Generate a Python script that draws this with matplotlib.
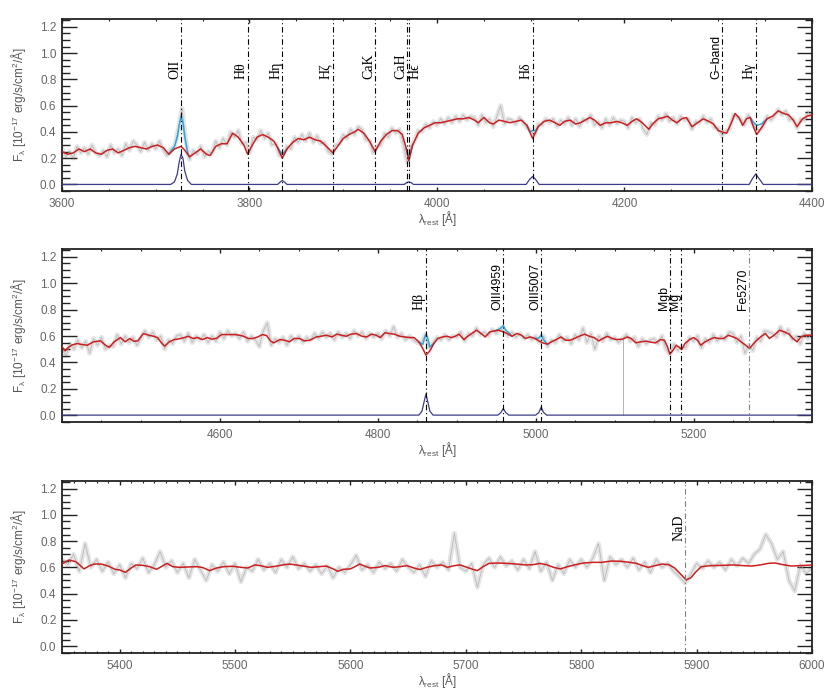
import numpy as np
import matplotlib
matplotlib.use('Agg')
import matplotlib.pyplot as plt
from matplotlib.ticker import MultipleLocator, FixedLocator, FormatStrFormatter

plt.rcParams['font.family'] = ['Liberation Sans', 'DejaVu Sans']
plt.rcParams['mathtext.default'] = 'regular'

# ---------------- panel 1 : 3600 - 4400 A ----------------
gray1_start, gray1_step = 3600, 4
gray1 = [0.27, 0.21, 0.25, 0.20, 0.29, 0.24, 0.28, 0.23, 0.30, 0.24,
         0.22, 0.26, 0.21, 0.30, 0.24, 0.27, 0.22, 0.31, 0.26, 0.33,
         0.30, 0.25, 0.32, 0.26, 0.31, 0.27, 0.33, 0.26, 0.22, 0.27,
         0.29, 0.42, 0.58, 0.34, 0.19, 0.26, 0.23, 0.29, 0.21, 0.25,
         0.24, 0.33, 0.28, 0.35, 0.30, 0.40, 0.36, 0.41, 0.31, 0.32,
         0.24, 0.36, 0.34, 0.41, 0.35, 0.39, 0.30, 0.31, 0.22, 0.23,
         0.29, 0.27, 0.36, 0.32, 0.38, 0.33, 0.39, 0.32, 0.37, 0.31,
         0.32, 0.25, 0.23, 0.30, 0.31, 0.38, 0.35, 0.42, 0.38, 0.44,
         0.42, 0.34, 0.33, 0.24, 0.29, 0.30, 0.39, 0.36, 0.43, 0.39,
         0.42, 0.31, 0.17, 0.29, 0.33, 0.41, 0.40, 0.46, 0.43, 0.48,
         0.45, 0.50, 0.46, 0.51, 0.47, 0.52, 0.48, 0.53, 0.49, 0.52,
         0.51, 0.45, 0.53, 0.47, 0.50, 0.44, 0.52, 0.60, 0.46, 0.50,
         0.49, 0.46, 0.51, 0.47, 0.43, 0.41, 0.38, 0.46, 0.45, 0.50,
         0.47, 0.50, 0.44, 0.49, 0.46, 0.51, 0.45, 0.50, 0.44, 0.50,
         0.48, 0.53, 0.45, 0.48, 0.43, 0.50, 0.45, 0.51, 0.46, 0.49,
         0.48, 0.43, 0.51, 0.47, 0.50, 0.42, 0.38, 0.47, 0.45, 0.52,
         0.49, 0.54, 0.48, 0.51, 0.46, 0.52, 0.49, 0.50, 0.42, 0.48,
         0.47, 0.52, 0.47, 0.50, 0.43, 0.43, 0.37, 0.41, 0.42, 0.53,
         0.51, 0.50, 0.45, 0.53, 0.47, 0.43, 0.41, 0.44, 0.52, 0.49,
         0.52, 0.57, 0.53, 0.56, 0.49, 0.50, 0.43, 0.50, 0.49, 0.55,
         0.51]

red1 = [(3600, 0.25), (3606, 0.23), (3612, 0.24), (3618, 0.27), (3624, 0.25),
        (3630, 0.27), (3636, 0.24), (3642, 0.23), (3648, 0.26), (3654, 0.27),
        (3660, 0.24), (3666, 0.26), (3672, 0.28), (3678, 0.29), (3684, 0.28),
        (3690, 0.27), (3696, 0.29), (3702, 0.30), (3708, 0.28), (3714, 0.23),
        (3720, 0.27), (3727, 0.29), (3731, 0.26), (3736, 0.21), (3742, 0.24),
        (3748, 0.27), (3754, 0.23), (3758, 0.22), (3764, 0.29), (3770, 0.31),
        (3776, 0.31), (3782, 0.39), (3788, 0.36), (3794, 0.30), (3798, 0.23),
        (3803, 0.30), (3808, 0.36), (3814, 0.38), (3820, 0.36), (3826, 0.33),
        (3830, 0.28), (3835, 0.20), (3840, 0.27), (3846, 0.32), (3852, 0.35),
        (3858, 0.34), (3864, 0.36), (3870, 0.34), (3876, 0.33), (3882, 0.29),
        (3889, 0.24), (3895, 0.30), (3900, 0.35), (3906, 0.38), (3912, 0.40),
        (3916, 0.42), (3922, 0.39), (3928, 0.33), (3934, 0.25), (3940, 0.33),
        (3946, 0.38), (3952, 0.41), (3958, 0.41), (3963, 0.38), (3967, 0.28),
        (3970, 0.18), (3974, 0.30), (3980, 0.39), (3986, 0.43), (3992, 0.45),
        (3998, 0.47), (4004, 0.47), (4010, 0.48), (4016, 0.49), (4022, 0.50),
        (4028, 0.50), (4034, 0.51), (4040, 0.49), (4044, 0.47), (4050, 0.51),
        (4056, 0.47), (4060, 0.46), (4066, 0.49), (4072, 0.48), (4078, 0.47),
        (4084, 0.48), (4090, 0.49), (4096, 0.45), (4102, 0.35), (4108, 0.44),
        (4114, 0.48), (4120, 0.49), (4126, 0.47), (4131, 0.45), (4136, 0.48),
        (4142, 0.49), (4148, 0.46), (4153, 0.47), (4158, 0.49), (4163, 0.51),
        (4168, 0.49), (4174, 0.45), (4180, 0.47), (4186, 0.47), (4192, 0.48),
        (4197, 0.47), (4203, 0.45), (4208, 0.48), (4213, 0.50), (4219, 0.47),
        (4226, 0.42), (4230, 0.46), (4236, 0.50), (4242, 0.51), (4246, 0.52),
        (4251, 0.49), (4256, 0.47), (4261, 0.50), (4266, 0.51), (4272, 0.44),
        (4278, 0.47), (4284, 0.50), (4290, 0.48), (4295, 0.46), (4300, 0.41),
        (4304, 0.40), (4309, 0.39), (4314, 0.47), (4318, 0.54), (4322, 0.51),
        (4326, 0.45), (4330, 0.50), (4334, 0.51), (4338, 0.43), (4341, 0.38),
        (4346, 0.43), (4352, 0.50), (4358, 0.52), (4364, 0.56), (4370, 0.54),
        (4375, 0.53), (4380, 0.49), (4384, 0.44), (4390, 0.50), (4395, 0.52),
        (4400, 0.53)]

emis1 = [(3600, 0), (3716, 0), (3720, 0.02), (3723, 0.08), (3725, 0.17), (3727, 0.23),
         (3729, 0.20), (3731, 0.10), (3734, 0.03), (3738, 0), (3830, 0), (3833, 0.02),
         (3835, 0.03), (3837, 0.02), (3840, 0), (3965, 0), (3968, 0.015), (3970, 0.02),
         (3972, 0.015), (3975, 0), (4095, 0), (4099, 0.04), (4102, 0.06), (4105, 0.04),
         (4109, 0), (4333, 0), (4337, 0.05), (4340, 0.08), (4343, 0.05), (4348, 0),
         (4400, 0)]

cyan1 = [[(3714, 0.23), (3720, 0.29), (3723, 0.36), (3725, 0.45), (3727, 0.52),
          (3729, 0.47), (3731, 0.36), (3734, 0.24), (3736, 0.21)],
         [(3830, 0.28), (3835, 0.23), (3840, 0.27)],
         [(3967, 0.28), (3970, 0.20), (3974, 0.30)],
         [(4096, 0.45), (4099, 0.40), (4102, 0.41), (4105, 0.41), (4108, 0.44)],
         [(4334, 0.51), (4338, 0.47), (4341, 0.45), (4346, 0.46), (4352, 0.50)]]

lines1 = [(3727, 'OII', 'l'), (3798, 'Hθ', 'l'), (3835, 'Hη', 'l'), (3889, 'Hζ', 'l'),
          (3934, 'CaK', 'l'), (3968.5, 'CaH', 'l'), (3970, 'Hϵ', 'r'), (4102, 'Hδ', 'l'),
          (4304, 'G−band', 'l'), (4340, 'Hγ', 'l')]

# ---------------- panel 2 : 4400 - 5350 A ----------------
gray2_start, gray2_step = 4400, 5
gray2 = [0.50, 0.45, 0.54, 0.50, 0.57, 0.51, 0.56, 0.47, 0.58, 0.53,
         0.59, 0.50, 0.53, 0.52, 0.61, 0.54, 0.60, 0.55, 0.59, 0.53,
         0.58, 0.64, 0.59, 0.63, 0.57, 0.60, 0.50, 0.57, 0.54, 0.60,
         0.61, 0.56, 0.62, 0.55, 0.60, 0.57, 0.61, 0.55, 0.60, 0.56,
         0.63, 0.58, 0.64, 0.60, 0.62, 0.58, 0.63, 0.56, 0.60, 0.57,
         0.52, 0.64, 0.70, 0.53, 0.58, 0.55, 0.59, 0.53, 0.60, 0.56,
         0.60, 0.55, 0.59, 0.57, 0.62, 0.58, 0.63, 0.59, 0.62, 0.57,
         0.63, 0.59, 0.62, 0.58, 0.64, 0.60, 0.63, 0.58, 0.62, 0.59,
         0.62, 0.58, 0.64, 0.60, 0.67, 0.59, 0.62, 0.57, 0.60, 0.57,
         0.55, 0.54, 0.61, 0.51, 0.55, 0.59, 0.57, 0.61, 0.57, 0.60,
         0.59, 0.63, 0.56, 0.62, 0.60, 0.66, 0.61, 0.63, 0.60, 0.65,
         0.62, 0.66, 0.64, 0.60, 0.63, 0.59, 0.62, 0.58, 0.61, 0.57,
         0.60, 0.55, 0.60, 0.52, 0.57, 0.55, 0.61, 0.56, 0.59, 0.54,
         0.61, 0.57, 0.66, 0.55, 0.62, 0.50, 0.60, 0.56, 0.62, 0.57,
         0.59, 0.55, 0.58, 0.61, 0.56, 0.59, 0.52, 0.58, 0.54, 0.57,
         0.58, 0.54, 0.60, 0.50, 0.46, 0.54, 0.49, 0.52, 0.51, 0.59,
         0.56, 0.60, 0.51, 0.58, 0.55, 0.61, 0.56, 0.60, 0.57, 0.63,
         0.62, 0.55, 0.60, 0.47, 0.53, 0.49, 0.59, 0.56, 0.64, 0.63,
         0.62, 0.59, 0.67, 0.61, 0.65, 0.57, 0.60, 0.54, 0.62, 0.58,
         0.63]
# single bad pixel dropping to zero: (wavelength, top, bottom)
badpix2 = (5110, 0.58, 0.0)

red2 = [(4400, 0.518), (4404, 0.487), (4408, 0.513), (4412, 0.530), (4419, 0.543),
        (4426, 0.535), (4432, 0.530), (4440, 0.556), (4449, 0.563), (4455, 0.530),
        (4460, 0.513), (4466, 0.556), (4474, 0.588), (4480, 0.556), (4486, 0.581),
        (4491, 0.560), (4496, 0.563), (4503, 0.619), (4510, 0.606), (4516, 0.598),
        (4521, 0.588), (4526, 0.548), (4530, 0.523), (4536, 0.556), (4542, 0.573),
        (4548, 0.578), (4555, 0.588), (4560, 0.598), (4566, 0.581), (4572, 0.588),
        (4578, 0.573), (4584, 0.588), (4590, 0.576), (4596, 0.583), (4602, 0.611),
        (4610, 0.611), (4618, 0.611), (4625, 0.606), (4630, 0.598), (4636, 0.581),
        (4642, 0.581), (4648, 0.593), (4654, 0.611), (4659, 0.604), (4664, 0.563),
        (4668, 0.548), (4676, 0.573), (4682, 0.568), (4688, 0.556), (4694, 0.581),
        (4701, 0.581), (4707, 0.563), (4714, 0.568), (4722, 0.593), (4728, 0.598),
        (4735, 0.606), (4742, 0.593), (4748, 0.614), (4754, 0.606), (4760, 0.598),
        (4766, 0.614), (4773, 0.619), (4780, 0.598), (4786, 0.593), (4792, 0.614),
        (4798, 0.606), (4803, 0.588), (4809, 0.624), (4815, 0.619), (4821, 0.614),
        (4828, 0.598), (4834, 0.593), (4840, 0.588), (4846, 0.588), (4852, 0.556),
        (4857, 0.505), (4861, 0.455), (4866, 0.487), (4871, 0.543), (4876, 0.581),
        (4882, 0.593), (4888, 0.598), (4893, 0.588), (4898, 0.598), (4903, 0.614),
        (4909, 0.573), (4914, 0.598), (4919, 0.619), (4925, 0.644), (4931, 0.619),
        (4936, 0.593), (4942, 0.631), (4948, 0.639), (4953, 0.644), (4959, 0.631),
        (4964, 0.619), (4970, 0.598), (4976, 0.619), (4982, 0.606), (4987, 0.581),
        (4993, 0.593), (4999, 0.581), (5004, 0.563), (5009, 0.548), (5015, 0.538),
        (5020, 0.556), (5026, 0.573), (5032, 0.593), (5038, 0.568), (5044, 0.568),
        (5049, 0.581), (5055, 0.598), (5062, 0.614), (5068, 0.598), (5074, 0.588),
        (5080, 0.563), (5085, 0.581), (5091, 0.598), (5097, 0.581), (5102, 0.573),
        (5110, 0.576), (5116, 0.593), (5121, 0.581), (5127, 0.548), (5133, 0.556),
        (5140, 0.561), (5146, 0.553), (5152, 0.548), (5158, 0.573), (5163, 0.568),
        (5167, 0.518), (5170, 0.462), (5174, 0.492), (5178, 0.530), (5182, 0.513),
        (5185, 0.497), (5189, 0.543), (5195, 0.573), (5200, 0.588), (5205, 0.568),
        (5209, 0.530), (5214, 0.553), (5220, 0.573), (5226, 0.588), (5232, 0.581),
        (5238, 0.581), (5244, 0.606), (5250, 0.593), (5255, 0.581), (5260, 0.556),
        (5266, 0.530), (5271, 0.505), (5276, 0.543), (5281, 0.573), (5286, 0.598),
        (5291, 0.619), (5296, 0.581), (5302, 0.606), (5309, 0.644), (5315, 0.631),
        (5321, 0.614), (5326, 0.581), (5331, 0.556), (5336, 0.593), (5342, 0.606),
        (5350, 0.606)]

emis2 = [(4400, 0), (4852, 0), (4856, 0.03), (4859, 0.11), (4861, 0.16), (4863, 0.11),
         (4866, 0.03), (4870, 0), (4952, 0), (4956, 0.02), (4959, 0.05), (4962, 0.02),
         (4966, 0), (5000, 0), (5004, 0.02), (5007, 0.06), (5010, 0.02), (5014, 0),
         (5350, 0)]

cyan2 = [[(4852, 0.556), (4857, 0.535), (4859, 0.58), (4861, 0.615), (4863, 0.59),
          (4866, 0.517), (4871, 0.543)],
         [(4948, 0.639), (4953, 0.650), (4956, 0.660), (4959, 0.680), (4962, 0.645),
          (4966, 0.625), (4970, 0.598)],
         [(4999, 0.581), (5004, 0.583), (5007, 0.610), (5010, 0.570), (5015, 0.538)]]

lines2 = [(4861, 'Hβ', 'l'), (4959, 'OIII4959', 'l'), (5007, 'OIII5007', 'l'),
          (5170, 'Mgb', 'l'), (5184, 'Mg', 'l'), (5270, 'Fe5270', 'l')]

# ---------------- panel 3 : 5350 - 6000 A ----------------
gray3_start, gray3_step = 5350, 5
gray3 = [0.66, 0.62, 0.70, 0.57, 0.78, 0.60, 0.66, 0.57, 0.64, 0.55,
         0.62, 0.52, 0.63, 0.59, 0.67, 0.56, 0.62, 0.72, 0.60, 0.65,
         0.56, 0.63, 0.52, 0.66, 0.58, 0.50, 0.62, 0.57, 0.64, 0.55,
         0.63, 0.49, 0.60, 0.57, 0.66, 0.58, 0.63, 0.56, 0.66, 0.60,
         0.68, 0.59, 0.63, 0.57, 0.62, 0.55, 0.61, 0.52, 0.60, 0.56,
         0.62, 0.69, 0.58, 0.62, 0.56, 0.64, 0.59, 0.63, 0.57, 0.66,
         0.60, 0.56, 0.62, 0.53, 0.65, 0.60, 0.64, 0.58, 0.86, 0.60,
         0.57, 0.63, 0.45, 0.62, 0.67, 0.60, 0.68, 0.61, 0.65, 0.58,
         0.66, 0.59, 0.72, 0.57, 0.64, 0.50, 0.62, 0.55, 0.66, 0.60,
         0.66, 0.60, 0.67, 0.78, 0.50, 0.68, 0.62, 0.66, 0.60, 0.67,
         0.58, 0.64, 0.56, 0.66, 0.60, 0.63, 0.57, 0.53, 0.48, 0.55,
         0.63, 0.59, 0.65, 0.60, 0.64, 0.58, 0.66, 0.61, 0.67, 0.63,
         0.70, 0.74, 0.85, 0.78, 0.66, 0.72, 0.50, 0.42, 0.62, 0.55,
         0.60]

red3 = [(5350, 0.625), (5356, 0.656), (5362, 0.643), (5366, 0.613), (5369, 0.588),
        (5374, 0.613), (5378, 0.625), (5384, 0.625), (5390, 0.610), (5396, 0.585),
        (5400, 0.580), (5405, 0.562), (5410, 0.595), (5414, 0.618), (5420, 0.615),
        (5426, 0.605), (5432, 0.585), (5437, 0.610), (5441, 0.630), (5446, 0.605),
        (5452, 0.600), (5460, 0.603), (5467, 0.605), (5472, 0.598), (5478, 0.575),
        (5484, 0.595), (5490, 0.605), (5498, 0.608), (5505, 0.600), (5511, 0.595),
        (5517, 0.618), (5522, 0.613), (5528, 0.600), (5535, 0.608), (5541, 0.618),
        (5547, 0.625), (5553, 0.618), (5559, 0.610), (5566, 0.600), (5573, 0.605),
        (5579, 0.610), (5585, 0.588), (5589, 0.570), (5594, 0.585), (5600, 0.588),
        (5605, 0.610), (5608, 0.625), (5612, 0.610), (5617, 0.595), (5624, 0.600),
        (5630, 0.613), (5637, 0.600), (5643, 0.605), (5649, 0.613), (5655, 0.595),
        (5660, 0.583), (5666, 0.600), (5673, 0.613), (5679, 0.618), (5684, 0.600),
        (5690, 0.613), (5695, 0.618), (5701, 0.600), (5706, 0.585), (5710, 0.575),
        (5715, 0.605), (5720, 0.630), (5728, 0.633), (5736, 0.630), (5744, 0.625),
        (5752, 0.618), (5758, 0.620), (5764, 0.630), (5770, 0.620), (5776, 0.600),
        (5782, 0.588), (5788, 0.605), (5795, 0.620), (5802, 0.633), (5810, 0.638),
        (5818, 0.638), (5826, 0.648), (5834, 0.646), (5842, 0.638), (5848, 0.630),
        (5853, 0.613), (5858, 0.600), (5864, 0.613), (5870, 0.625), (5876, 0.620),
        (5881, 0.595), (5886, 0.550), (5891, 0.504), (5895, 0.520), (5899, 0.562),
        (5904, 0.605), (5912, 0.613), (5922, 0.615), (5932, 0.618), (5940, 0.613),
        (5948, 0.610), (5955, 0.618), (5962, 0.630), (5968, 0.633), (5975, 0.620),
        (5982, 0.610), (5990, 0.613), (6000, 0.618)]

lines3 = [(5890, 'NaD', 'l')]

serif_labels = ['OII', 'Hθ', 'Hη', 'Hζ', 'CaK', 'CaH', 'Hϵ', 'Hδ', 'Hγ', 'Hβ', 'NaD']
gray_lines = ['Fe5270', 'NaD']

panels = [
    dict(pos=[0.0747, 0.7240, 0.9036, 0.2485], xlim=(3600, 4400),
         xticks=[3600, 3800, 4000, 4200, 4400], minor=50,
         gray=(gray1_start, gray1_step, gray1), bad=None,
         red=red1, emis=emis1, cyan=cyan1, lines=lines1),
    dict(pos=[0.0747, 0.3906, 0.9036, 0.2496], xlim=(4400, 5350),
         xticks=[4600, 4800, 5000, 5200], minor=50,
         gray=(gray2_start, gray2_step, gray2), bad=badpix2,
         red=red2, emis=emis2, cyan=cyan2, lines=lines2),
    dict(pos=[0.0747, 0.0568, 0.9036, 0.2486], xlim=(5350, 6000),
         xticks=[5400, 5500, 5600, 5700, 5800, 5900, 6000], minor=10,
         gray=(gray3_start, gray3_step, gray3), bad=None,
         red=red3, emis=None, cyan=[], lines=lines3),
]

fig = plt.figure(figsize=(8.3, 6.92), dpi=100)

for p in panels:
    ax = fig.add_axes(p['pos'])

    g0, gs, gv = p['gray']
    gw = g0 + gs * np.arange(len(gv))
    ax.plot(gw, gv, color='#e4e4e4', lw=3.4, zorder=1, solid_joinstyle='round')
    ax.plot(gw, gv, color='#b4b4b4', lw=0.5, zorder=2)
    if p['bad'] is not None:
        bw, btop, bbot = p['bad']
        ax.vlines(bw, bbot, btop, color='#b4b4b4', lw=0.7, zorder=2)

    if p['emis'] is not None:
        ew, ef = np.array(p['emis']).T
        ax.plot(ew, ef, color='#3c3c8a', lw=0.9, zorder=3)

    for seg in p['cyan']:
        cw, cf = np.array(seg).T
        ax.plot(cw, cf, color='#2aa9e0', lw=1.1, zorder=4)

    rw, rf = np.array(p['red']).T
    ax.plot(rw, rf, color='#cc1f1f', lw=1.1, zorder=5)

    for wl, name, side in p['lines']:
        col = '#808080' if name in gray_lines else 'black'
        ax.axvline(wl, color=col, lw=0.8, ls=(0, (5, 2.5, 1, 2.5)), zorder=6)
        if name in serif_labels:
            fam, fs = ['Liberation Serif', 'DejaVu Serif'], 10
        else:
            fam, fs = ['Liberation Sans', 'DejaVu Sans'], 8.8
        ax.text(wl, 0.80, name, rotation=90, ha='right' if side == 'l' else 'left',
                va='bottom', fontsize=fs, family=fam, color='black', zorder=7)

    ax.set_xlim(*p['xlim'])
    ax.set_ylim(-0.05, 1.26)
    ax.xaxis.set_major_locator(FixedLocator(p['xticks']))
    ax.xaxis.set_minor_locator(MultipleLocator(p['minor']))
    ax.yaxis.set_major_locator(MultipleLocator(0.2))
    ax.yaxis.set_minor_locator(MultipleLocator(0.05))
    ax.yaxis.set_major_formatter(FormatStrFormatter('%.1f'))

    ax.tick_params(which='both', direction='in', top=True, right=True,
                   colors='#222222', labelcolor='#666666', labelsize=8.5)
    ax.tick_params(axis='y', which='major', length=10.8, width=1.0, pad=4)
    ax.tick_params(axis='y', which='minor', length=5.4, width=1.0)
    ax.tick_params(axis='x', which='major', length=3.0, width=1.0, pad=5)
    ax.tick_params(axis='x', which='minor', length=1.6, width=0.8)
    for s in ax.spines.values():
        s.set_linewidth(1.3)
        s.set_color('#222222')

    ax.set_ylabel(r'F$_\lambda$ [10$^{-17}$ erg/s/cm$^2$/Å]', fontsize=8.5, color='#555555')
    ax.yaxis.set_label_coords(-0.045, 0.5)
    ax.set_xlabel(r'λ$_{rest}$ [Å]', fontsize=8.5, color='#555555')
    ax.xaxis.set_label_coords(0.5, -0.105)

fig.savefig('out.png', dpi=100)
